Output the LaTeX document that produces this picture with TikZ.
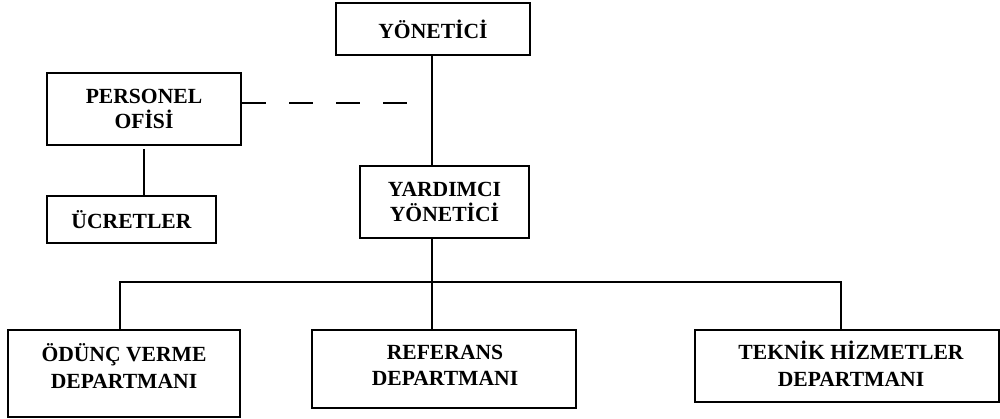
\documentclass[tikz,border=0pt]{standalone}
\usepackage{fontspec}
\setmainfont{Liberation Serif}
\begin{document}
\begin{tikzpicture}[x=1pt,y=-1pt,
  box/.style={draw, line width=2pt, inner sep=0pt, align=center,
    font=\bfseries\fontsize{21.6}{25.5}\selectfont},
  lbl/.style={inner sep=0pt, align=center, font=\bfseries\fontsize{21.6}{26.5}\selectfont},
  conn/.style={line width=2pt},
  dashconn/.style={line width=2pt, dash pattern=on 24pt off 23pt}]
\useasboundingbox (0,0) rectangle (1000,419);
% boxes
\node[box, minimum width=194pt, minimum height=52pt] (yon) at (433,29) {YÖNETİCİ};
\node[box, minimum width=194pt, minimum height=72pt] (pers) at (144,109) {PERSONEL\\OFİSİ};
\node[box, minimum width=169pt, minimum height=47pt] (ucr) at (131.5,219.5) {ÜCRETLER};
\node[box, minimum width=169pt, minimum height=72pt] (yard) at (444.5,202) {YARDIMCI\\YÖNETİCİ};
\node[box, minimum width=232pt, minimum height=87pt] (odunc) at (124,373.5) {};
\node[box, minimum width=264pt, minimum height=78pt] (ref) at (444,369) {};
\node[box, minimum width=304pt, minimum height=72pt] (tek) at (847,366) {};
% labels of department boxes
\node[lbl] (odunc-t) at (124,366) {ÖDÜNÇ VERME\\DEPARTMANI};
\node[lbl] (ref-t) at (445,365.5) {REFERANS\\DEPARTMANI};
\node[lbl] (tek-t) at (851,364) {TEKNİK HİZMETLER\\DEPARTMANI};
% helper coordinates
\coordinate (trunk) at (432,282);
\coordinate (busL) at (120,282);
\coordinate (busR) at (841,282);
\coordinate (dashend) at (408,103);
% connectors
\draw[conn] (trunk |- yon.south) -- (trunk |- yard.north);
\draw[conn] (trunk |- yard.south) -- (trunk |- ref.north);
\draw[conn] (busL |- odunc.north) -- (busL) -- (busR) -- (busR |- tek.north);
\draw[dashconn] (pers.east |- dashend) -- (dashend);
\draw[conn, shorten <=3pt] (pers.south) -- (pers.south |- ucr.north);
\end{tikzpicture}
\end{document}
